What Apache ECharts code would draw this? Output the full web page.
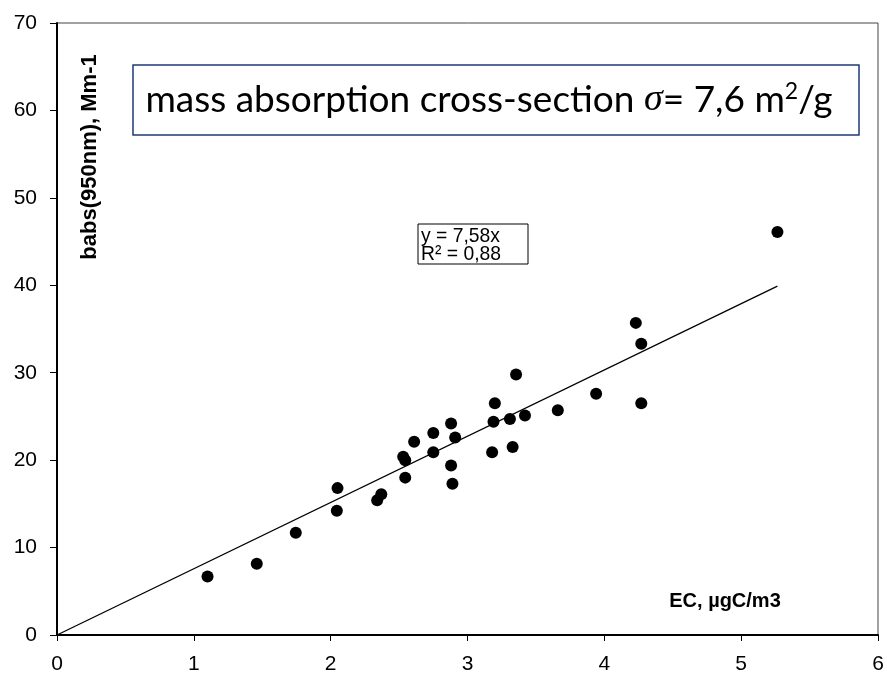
<!DOCTYPE html>
<html>
<head>
<meta charset="utf-8">
<script src="https://cdn.jsdelivr.net/npm/echarts@6/dist/echarts.min.js"></script>
<style>
  html, body { margin: 0; padding: 0; background: #fff; }
  #chart-wrapper { width: 887px; height: 675px; }
</style>
</head>
<body>
<div id="chart-wrapper"></div>
<script>
// EC (µgC/m3) vs babs(950nm) (Mm-1)
const ecValues = [1.10, 1.46, 1.745, 2.05, 2.045, 2.34, 2.37, 2.53, 2.545, 2.545,
  2.61, 2.75, 2.75, 2.88, 2.91, 2.88, 2.89, 3.18, 3.19, 3.20,
  3.31, 3.33, 3.355, 3.42, 3.66, 3.94, 4.23, 4.27, 4.27, 5.265];
const babsValues = [6.7, 8.15, 11.7, 16.8, 14.2, 15.4, 16.1, 20.4, 20.0, 18.0,
  22.1, 23.1, 20.9, 24.2, 22.6, 19.4, 17.3, 20.9, 24.4, 26.5,
  24.7, 21.5, 29.8, 25.1, 25.7, 27.6, 35.7, 33.3, 26.5, 46.1];
// linear trend line y = 7,58x, endpoints
const trendX = [0, 5.265];
const trendY = [0, 39.9];
const xTicks = [0, 1, 2, 3, 4, 5, 6];
const yTicks = [0, 10, 20, 30, 40, 50, 60, 70];

const chartDom = document.getElementById("chart-wrapper");
const chart = echarts.init(chartDom);

const points = ecValues.map((x, i) => [x, babsValues[i]]);
const trend = trendX.map((x, i) => [x, trendY[i]]);

const option = {
  backgroundColor: "#fff",
  animation: false,
  grid: {
    left: 57,
    right: 9,
    top: 23,
    bottom: 39,
    show: true,
    borderColor: "#444",
    borderWidth: 1,
  },
  xAxis: {
    type: "value",
    min: xTicks[0],
    max: xTicks[xTicks.length - 1],
    interval: 1,
    axisLine: { show: true, onZero: false, lineStyle: { color: "#000", width: 2 } },
    axisTick: { show: true, inside: false, length: 6, lineStyle: { color: "#000", width: 1 } },
    axisLabel: { fontFamily: "Liberation Sans", fontSize: 21, color: "#000", margin: 19 },
    splitLine: { show: false },
  },
  yAxis: {
    type: "value",
    min: yTicks[0],
    max: yTicks[yTicks.length - 1],
    interval: 10,
    axisLine: { show: true, onZero: false, lineStyle: { color: "#000", width: 2 } },
    axisTick: { show: true, inside: false, length: 7, lineStyle: { color: "#000", width: 1 } },
    axisLabel: { fontFamily: "Liberation Sans", fontSize: 21, color: "#000", margin: 20 },
    splitLine: { show: false },
  },
  series: [
    {
      type: "line",
      data: trend,
      symbol: "none",
      lineStyle: { color: "#000", width: 1.3 },
      z: 2,
    },
    {
      type: "scatter",
      data: points,
      symbol: "circle",
      symbolSize: 12,
      itemStyle: { color: "#000", opacity: 1 },
      z: 3,
    },
  ],
  graphic: [
    {
      type: "rect",
      shape: { x: 133, y: 65, width: 726, height: 70 },
      style: { fill: "#fff", stroke: "#1f3a7a", lineWidth: 1.5 },
      z: 10,
    },
    {
      type: "text",
      x: 489,
      y: 100,
      style: {
        rich: {
          t: { fontFamily: "Lato", fontSize: 37, fill: "#000" },
          s: { fontFamily: "Liberation Serif", fontStyle: "italic", fontSize: 38, fill: "#000" },
          sup: { fontFamily: "Lato", fontSize: 23, fill: "#000", verticalAlign: "top", padding: [0, 0, 16, 0] },
        },
        text: "{t|mass absorption cross-section }{s|σ}{t|= 7,6 m}{sup|2}{t|/g}",
        align: "center",
        verticalAlign: "middle",
      },
      z: 11,
    },
    {
      type: "rect",
      shape: { x: 418, y: 224, width: 110, height: 40 },
      style: { fill: "#fff", stroke: "#000", lineWidth: 1 },
      z: 10,
    },
    {
      type: "text",
      x: 421,
      y: 245,
      scaleX: 0.92,
      originX: 0,
      style: {
        text: "y = 7,58x\nR² = 0,88",
        fontFamily: "Liberation Sans",
        fontSize: 21,
        lineHeight: 18,
        fill: "#000",
        align: "left",
        verticalAlign: "middle",
      },
      z: 11,
    },
    {
      type: "text",
      x: 90,
      y: 157,
      rotation: Math.PI / 2,
      style: {
        text: "babs(950nm), Mm-1",
        fontFamily: "Liberation Sans",
        fontWeight: "bold",
        fontSize: 22,
        fill: "#000",
        align: "center",
        verticalAlign: "middle",
      },
      z: 11,
    },
    {
      type: "text",
      x: 725,
      y: 601,
      style: {
        text: "EC, µgC/m3",
        fontFamily: "Liberation Sans",
        fontWeight: "bold",
        fontSize: 20,
        fill: "#000",
        align: "center",
        verticalAlign: "middle",
      },
      z: 11,
    },
  ],
};

chart.setOption(option);
</script>
</body>
</html>
